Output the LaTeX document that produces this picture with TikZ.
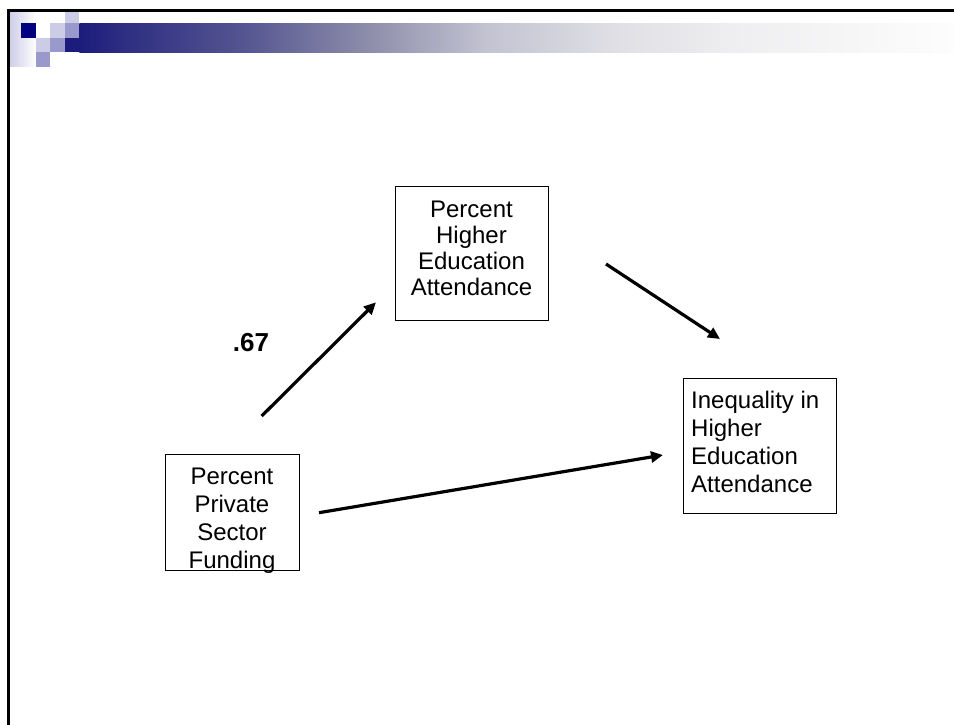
\documentclass[tikz,border=0pt]{standalone}
\usepackage{fontspec}
\setmainfont{Liberation Sans}
\usetikzlibrary{arrows.meta}

\definecolor{hdrnavy}{RGB}{0,0,128}
\definecolor{hdrlight}{RGB}{204,204,230}
\definecolor{hdrmid}{RGB}{153,153,204}
\definecolor{hdrdark}{RGB}{28,28,124}
\definecolor{bar1}{RGB}{45,45,130}
\definecolor{bar2}{RGB}{85,85,145}
\definecolor{bar3}{RGB}{140,140,170}
\definecolor{bar4}{RGB}{195,195,210}
\definecolor{bar5}{RGB}{222,222,228}
\definecolor{bar6}{RGB}{238,238,240}
\definecolor{bar7}{RGB}{246,246,247}
\definecolor{bar8}{RGB}{253,253,253}

% header bar fading from navy to white (25bp..75bp span the path)
\pgfdeclarehorizontalshading{hdrbar}{100bp}{%
  color(0bp)=(hdrdark); color(25bp)=(hdrdark);
  color(27.450bp)=(bar1); color(34.400bp)=(bar2);
  color(41.370bp)=(bar3); color(48.310bp)=(bar4);
  color(55.230bp)=(bar5); color(62.200bp)=(bar6);
  color(69.150bp)=(bar7); color(75bp)=(bar8); color(100bp)=(bar8)}

\tikzset{
  framerule/.style={line width=2.6pt, line cap=rect},
  boxframe/.style={draw=black, line width=1pt, inner sep=0pt},
  boxtext/.style={font=\fontsize{24}{28}\selectfont, inner sep=0pt, align=center},
  pathlink/.style={line width=3.2pt, -{Triangle[length=12pt,width=11pt]}},
  coeff/.style={font=\fontsize{26}{30}\selectfont\bfseries, inner sep=0pt}
}

\begin{document}
\begin{tikzpicture}[x=1pt,y=-1pt]
\useasboundingbox[fill=white] (0,0) rectangle (954,724);

% pixel header
\shade[left color=hdrlight, right color=white] (9,12) rectangle (36,66.7);
\fill[hdrlight] (64.8,9) rectangle (79.3,23);
\fill[hdrnavy]  (21.3,23) rectangle (35.8,37.7);
\fill[hdrlight] (50.3,23) rectangle (64.8,37.7);
\fill[hdrmid]   (64.8,23) rectangle (79.3,37.7);
\fill[hdrlight] (35.8,37.7) rectangle (50.3,52.3);
\fill[hdrmid]   (50.3,37.7) rectangle (64.8,52.3);
\fill[hdrdark]  (64.8,37.7) rectangle (79.6,52.3);
\fill[hdrmid]   (35.8,52.3) rectangle (50.3,66.7);
\shade[shading=hdrbar] (79.3,23) rectangle (954,52.5);

% slide frame
\draw[framerule] (8.5,724) -- (8.5,10.3) -- (956,10.3);

% boxes
\node[boxframe, minimum width=153pt, minimum height=134pt] (attend) at (471.5,253) {};
\node[boxframe, minimum width=134pt, minimum height=116pt] (funding) at (232,512) {};
\node[boxframe, minimum width=153pt, minimum height=135pt] (inequal) at (759.5,445.5) {};

% box labels
\node[boxtext, font=\fontsize{24}{25.9}\selectfont, anchor=north]
  (attendtxt) at (471.5,200.7) {Percent\\Higher\\Education\\Attendance};
\node[boxtext, font=\fontsize{24}{28}\selectfont, anchor=north]
  (fundingtxt) at (232,467.5) {Percent\\Private\\Sector\\Funding};
\node[boxtext, align=left, anchor=north west]
  (inequaltxt) at (691,390.7) {Inequality in\\Higher\\Education\\Attendance};

% path coefficient
\node[coeff] (coef) at (251,342.5) {.67};

% arrow end points
\coordinate (a1s) at (261.7,416);
\coordinate (a1e) at (376,302.3);
\coordinate (a2s) at (606,264);
\coordinate (a2e) at (720,339);
\coordinate (a3s) at (319,512.7);
\coordinate (a3e) at (663,455);

\draw[pathlink] (a1s) -- (a1e);
\draw[pathlink] (a2s) -- (a2e);
\draw[pathlink] (a3s) -- (a3e);
\end{tikzpicture}
\end{document}
